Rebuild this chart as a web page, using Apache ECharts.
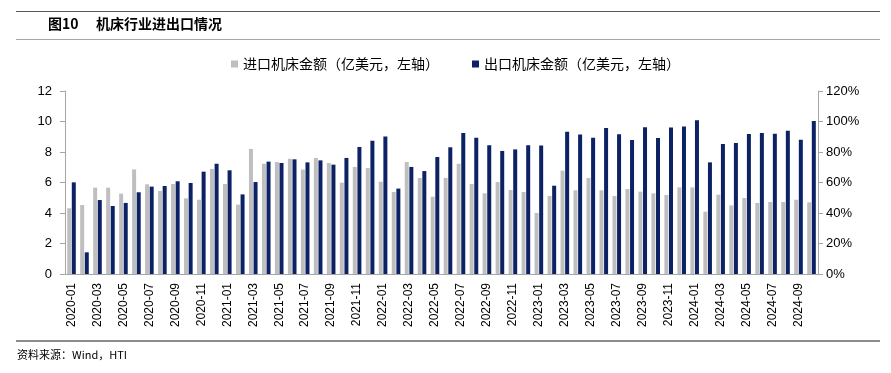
<!DOCTYPE html>
<html><head><meta charset="utf-8">
<script src="https://cdn.jsdelivr.net/npm/echarts@6/dist/echarts.min.js"></script>
<style>html,body{margin:0;padding:0;background:#fff}#c{width:891px;height:373px}</style>
</head><body><div id="c"></div>
<script>
var months = [];
for (var y = 2020; y <= 2024; y++) {
  for (var m = 1; m <= 12; m++) {
    if (y === 2024 && m > 10) break;
    months.push(y + '-' + (m < 10 ? '0' + m : m));
  }
}
var importVals = [4.31,4.52,5.66,5.66,5.27,6.86,5.88,5.44,5.90,4.96,4.87,6.89,
  5.90,4.55,8.20,7.23,7.34,7.56,6.85,7.61,7.28,5.99,7.02,6.95,
  6.05,5.38,7.34,6.30,5.07,6.30,7.23,5.90,5.29,6.03,5.51,5.38,
  4.00,5.12,6.78,5.49,6.30,5.49,5.11,5.57,5.40,5.29,5.18,5.68,
  5.68,4.09,5.20,4.50,4.98,4.66,4.72,4.72,4.87,4.70];
var exportVals = [6.01,1.42,4.85,4.46,4.66,5.36,5.73,5.77,6.08,5.97,6.71,7.23,
  6.80,5.22,6.03,7.37,7.28,7.52,7.32,7.45,7.17,7.61,8.33,8.74,
  9.01,5.60,7.02,6.75,7.67,8.31,9.25,8.94,8.44,8.07,8.17,8.44,
  8.42,5.79,9.33,9.14,8.94,9.57,9.16,8.79,9.62,8.92,9.60,9.68,
  10.08,7.32,8.52,8.59,9.18,9.25,9.20,9.40,8.81,10.03];
var seriesNames = ['进口机床金额（亿美元，左轴）','出口机床金额（亿美元，左轴）'];

var chart = echarts.init(document.getElementById('c'), null, {renderer:'canvas'});
var axisColor = '#a6a6a6';
var font = 'Liberation Sans, Arial, sans-serif';
chart.setOption({
  animation: false,
  textStyle: {fontFamily: font},
  graphic: [
    {type:'line', shape:{x1:16,y1:11.5,x2:880,y2:11.5}, style:{stroke:'#595959',lineWidth:1}},
    {type:'line', shape:{x1:16,y1:39.5,x2:880,y2:39.5}, style:{stroke:'#a6a6a6',lineWidth:1}},
    {type:'line', shape:{x1:16,y1:341,x2:880,y2:341}, style:{stroke:'#8c8c8c',lineWidth:2}},
    {type:'text', left:48, top:17, style:{text:'图10', font:'bold 14px "Noto Sans CJK SC", sans-serif', fill:'#000'}},
    {type:'text', left:96, top:17, style:{text:'机床行业进出口情况', font:'bold 14px "Noto Sans CJK SC", sans-serif', fill:'#000'}},
    {type:'text', left:17, top:349, style:{text:'资料来源：Wind，HTI', font:'11px "Noto Sans CJK SC", sans-serif', fill:'#000'}}
  ],
  legend: {
    top: 52, left: 226,
    itemWidth: 7, itemHeight: 7, itemGap: 33,
    icon: 'rect',
    textStyle: {fontFamily:'"Noto Sans CJK SC", sans-serif', fontSize: 14, color:'#000'},
    data: seriesNames
  },
  grid: {left: 65, right: 73, top: 91, bottom: 99, containLabel: false},
  xAxis: {
    type: 'category', data: months,
    axisLine: {lineStyle: {color: axisColor}},
    axisTick: {interval: 1, length: 5, lineStyle:{color: axisColor}},
    axisLabel: {interval: 1, rotate: 90, fontSize: 12, color:'#000', margin: 9, fontFamily: font}
  },
  yAxis: [
    {type:'value', min:0, max:12, interval:2,
     axisLine:{show:true, lineStyle:{color: axisColor}},
     axisTick:{show:true, length:5, lineStyle:{color: axisColor}},
     splitLine:{show:false},
     axisLabel:{fontSize:13, color:'#000', margin:13, fontFamily: font}},
    {type:'value', min:0, max:1.2, interval:0.2, position:'right',
     axisLine:{show:true, lineStyle:{color: axisColor}},
     axisTick:{show:true, length:5, lineStyle:{color: axisColor}},
     splitLine:{show:false},
     axisLabel:{fontSize:13, color:'#000', margin:8, fontFamily: font,
       formatter: function(v){return Math.round(v*100)+'%';}}}
  ],
  series: [
    {name: seriesNames[0], type:'bar', data: importVals, barWidth: 4, barGap: '15%',
     itemStyle:{color:'#bfbfbf'}},
    {name: seriesNames[1], type:'bar', data: exportVals, barWidth: 4,
     itemStyle:{color:'#0c2265'}}
  ]
});
</script></body></html>
